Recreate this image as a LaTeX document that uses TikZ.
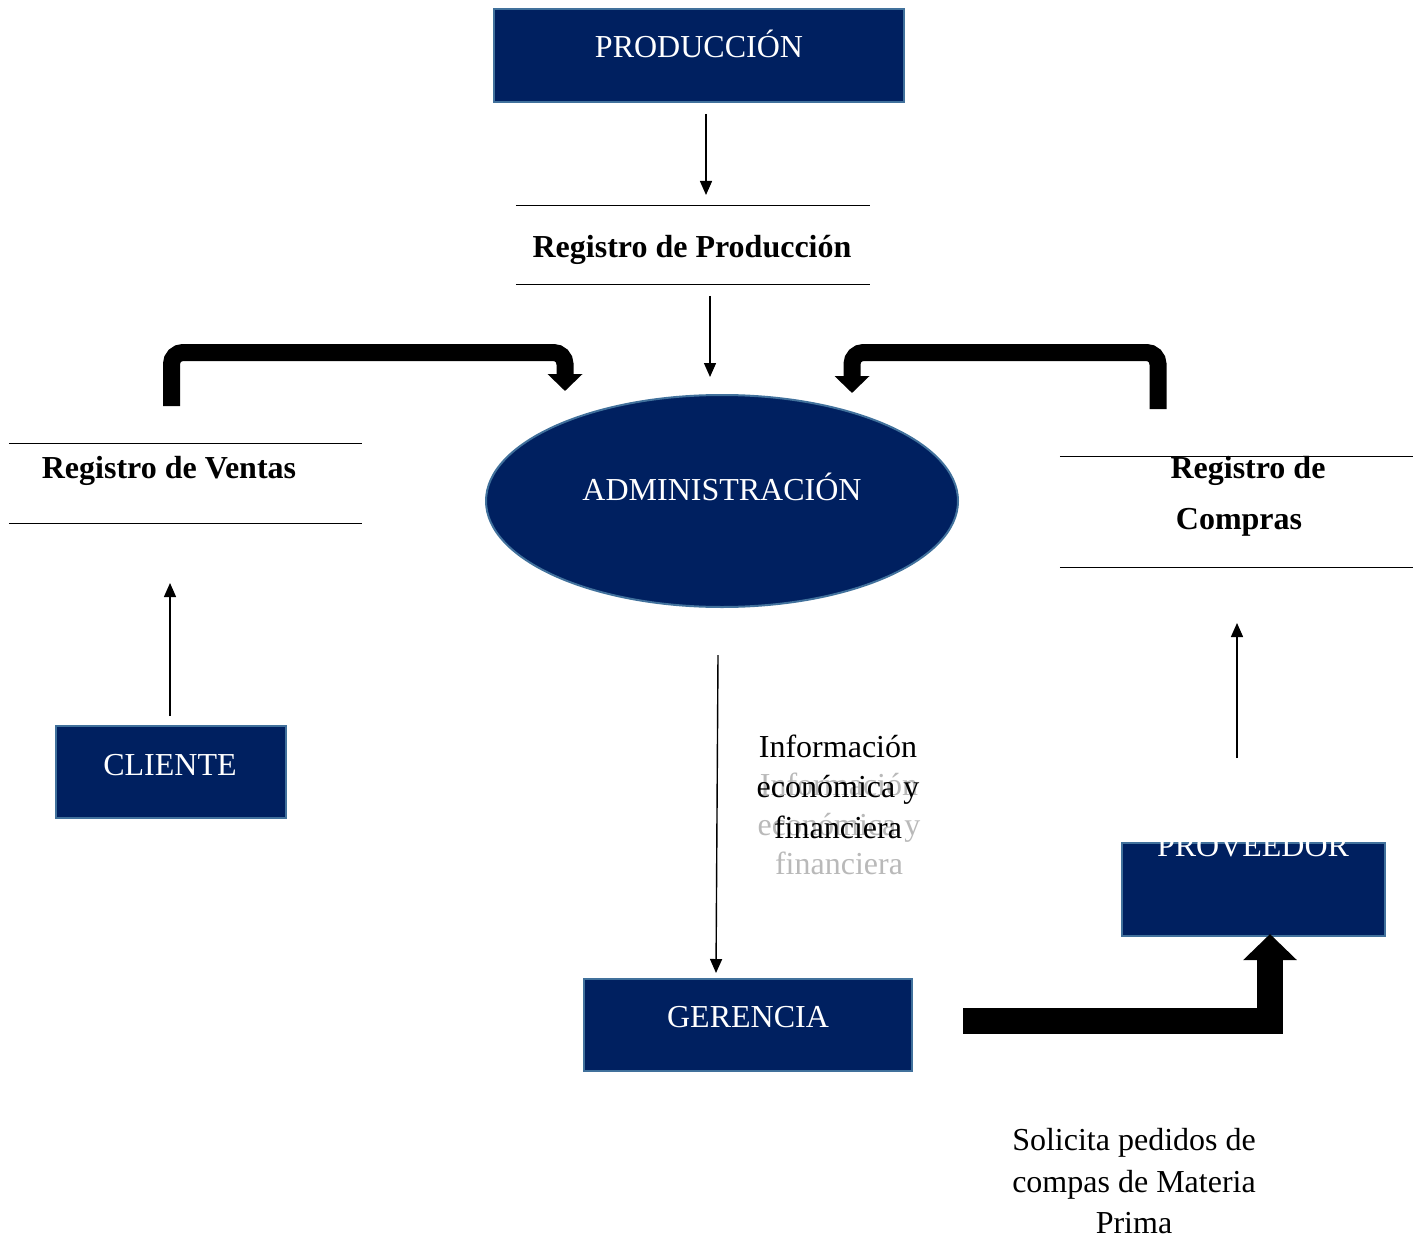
\documentclass[tikz,border=0pt]{standalone}
\usepackage{fontspec}
\setmainfont{Liberation Serif}
\usetikzlibrary{arrows.meta,shapes.geometric}
\definecolor{navy}{RGB}{0,32,96}
\definecolor{edgeblue}{RGB}{65,113,156}
\definecolor{ghostgray}{RGB}{185,185,185}
\tikzset{
  box/.style={rectangle,draw=edgeblue,line width=2pt,fill=navy,inner sep=0pt},
  regbox/.style={rectangle,inner sep=0pt},
  rule/.style={line width=1.1pt},
  wtxt/.style={text=white,font=\fontsize{32}{38}\selectfont,anchor=base,inner sep=0pt},
  btxt/.style={font=\fontsize{32}{38}\selectfont\bfseries,anchor=base,inner sep=0pt},
  ntxt/.style={font=\fontsize{32}{38}\selectfont,anchor=base,inner sep=0pt},
  gtxt/.style={text=ghostgray,font=\fontsize{32}{38}\selectfont,anchor=base,inner sep=0pt},
  thinarrow/.style={line width=1.4pt,-{Triangle[width=12pt,length=14pt]}},
  bigarrow/.style={line width=17pt,rounded corners=11.5pt,-{Triangle[width=34pt,length=17pt]}},
  hugearrow/.style={line width=26pt,line join=miter,-{Triangle[width=52pt,length=26pt]}}
}
\begin{document}
\begin{tikzpicture}[x=1pt,y=-1pt]
\useasboundingbox (0,0) rectangle (1423,1238);

% boxes
\node[box,minimum width=410pt,minimum height=93pt] (prod) at (699,55.5) {};
\node[wtxt] (prodtxt) at (699,58) {PRODUCCIÓN};

\node[ellipse,draw=edgeblue,line width=2pt,fill=navy,minimum width=472pt,minimum height=212pt,inner sep=0pt] (adm) at (722,501) {};
\node[wtxt] (admtxt) at (722,500) {ADMINISTRACIÓN};

\node[box,minimum width=230pt,minimum height=92pt] (cli) at (171,772) {};
\node[wtxt] (clitxt) at (170,775) {CLIENTE};

\node[box,minimum width=328pt,minimum height=92pt] (ger) at (748,1025) {};
\node[wtxt] (gertxt) at (748,1027) {GERENCIA};

\node[box,minimum width=263pt,minimum height=93pt] (prov) at (1253.5,889.5) {};
\node[wtxt] (provtxt) at (1253,856) {PROVEEDOR};

% registers
\node[regbox,minimum width=354pt,minimum height=78pt] (rprod) at (693,245) {};
\draw[rule] (rprod.north west) -- (rprod.north east);
\draw[rule] (rprod.south west) -- (rprod.south east);
\node[btxt] (rprodtxt) at (692,258) {Registro de Producción};

\node[regbox,minimum width=353pt,minimum height=79pt] (rven) at (185.5,483.5) {};
\draw[rule] (rven.north west) -- (rven.north east);
\draw[rule] (rven.south west) -- (rven.south east);
\node[btxt] (rventxt) at (169,478) {Registro de Ventas};

\node[regbox,minimum width=353pt,minimum height=110pt] (rcom) at (1236.5,512) {};
\draw[rule] (rcom.north west) -- (rcom.north east);
\draw[rule] (rcom.south west) -- (rcom.south east);
\node[btxt] (rcomtxt1) at (1248,478) {Registro de};
\node[btxt] (rcomtxt2) at (1239,529) {Compras};

% labels
\node[gtxt] (g1) at (839,795) {Información};
\node[gtxt] (g2) at (839,835) {económica y};
\node[gtxt] (g3) at (839,874) {financiera};
\node[ntxt] (i1) at (838,757) {Información};
\node[ntxt] (i2) at (838,797) {económica y};
\node[ntxt] (i3) at (838,838) {financiera};

\node[ntxt] (s1) at (1134,1150) {Solicita pedidos de};
\node[ntxt] (s2) at (1134,1192) {compas de Materia};
\node[ntxt] (s3) at (1134,1233) {Prima};

% connector ends
\coordinate (a1s) at (706,114);  \coordinate (a1e) at (706,195);
\coordinate (a2s) at (710,296);  \coordinate (a2e) at (710,377);
\coordinate (a3s) at (170,716);  \coordinate (a3e) at (170,583);
\coordinate (a4s) at (1237,758); \coordinate (a4e) at (1237,623);
\coordinate (a5s) at (718,655);  \coordinate (a5e) at (716,973);

\draw[thinarrow] (a1s) -- (a1e);
\draw[thinarrow] (a2s) -- (a2e);
\draw[thinarrow] (a3s) -- (a3e);
\draw[thinarrow] (a4s) -- (a4e);
\draw[thinarrow] (a5s) -- (a5e);

% thick arrows
\coordinate (b1s) at (171.5,406); \coordinate (b1e) at (565,391);
\draw[bigarrow] (b1s) -- (171.5,352.5) -- (565,352.5) -- (b1e);
\coordinate (b2s) at (1158,409); \coordinate (b2e) at (852,393);
\draw[bigarrow] (b2s) -- (1158,352.5) -- (852,352.5) -- (b2e);
\coordinate (b3s) at (963,1020.5); \coordinate (b3e) at (1270,934);
\draw[hugearrow] (b3s) -- (1270,1020.5) -- (b3e);
\end{tikzpicture}
\end{document}
